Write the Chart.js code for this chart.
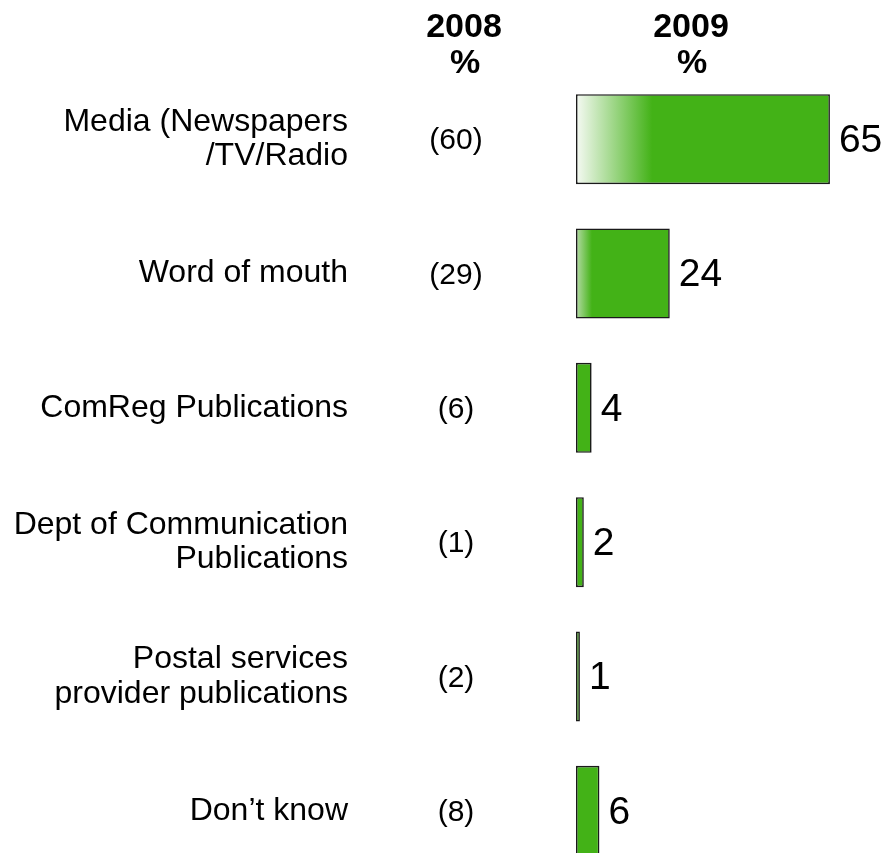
<!DOCTYPE html>
<html>
<head>
<meta charset="utf-8">
<script src="https://cdn.jsdelivr.net/npm/chart.js@4"></script>
<style>
  html, body { margin: 0; padding: 0; background: #ffffff; overflow: hidden; }
  #wrap { width: 885px; height: 880px; position: relative; }
</style>
</head>
<body>
<div id="wrap"><canvas id="sourceChart"></canvas></div>
<script>
// Categories (multi-line labels) and values
const categories = [
  ['Media (Newspapers', '/TV/Radio'],
  'Word of mouth',
  'ComReg Publications',
  ['Dept of Communication', 'Publications'],
  ['Postal services', 'provider publications'],
  'Don\u2019t know'
];
const values2009 = [65, 24, 4, 2, 1, 6];
const values2008 = [60, 29, 6, 1, 2, 8];
const columnHeaders = ['2008', '2009'];

// Styling for the white fade at the start of the two large bars
const GREEN = '#43b217';
const fadeFraction = [0.30, 0.17, 0, 0, 0, 0];
const fadeColor = ['#f6faf4', '#b7dca8', GREEN, GREEN, GREEN, GREEN];

const FONT = '"Liberation Sans", Arial, sans-serif';

function barFill(context) {
  const chart = context.chart;
  const i = context.dataIndex;
  if (!chart.chartArea || !fadeFraction[i]) return GREEN;
  const xs = chart.scales.x;
  const x0 = xs.getPixelForValue(0);
  const x1 = xs.getPixelForValue(values2009[i]);
  const g = chart.ctx.createLinearGradient(x0, 0, x1, 0);
  g.addColorStop(0, fadeColor[i]);
  g.addColorStop(fadeFraction[i], GREEN);
  g.addColorStop(1, GREEN);
  return g;
}

// Draws headers, 2008 values in brackets and 2009 value labels
const textPlugin = {
  id: 'textPlugin',
  afterDatasetsDraw(chart) {
    const ctx = chart.ctx;
    const meta = chart.getDatasetMeta(0);
    ctx.save();
    ctx.fillStyle = '#000000';
    ctx.textBaseline = 'middle';

    // column headers
    ctx.font = 'bold 34px ' + FONT;
    ctx.textAlign = 'center';
    ctx.fillText(columnHeaders[0], 464, 28);
    ctx.fillText('%', 465, 64);
    ctx.fillText(columnHeaders[1], 691, 28);
    ctx.fillText('%', 692, 64);

    meta.data.forEach((bar, i) => {
      // 2008 value
      ctx.font = '30px ' + FONT;
      ctx.textAlign = 'center';
      ctx.fillText('(' + values2008[i] + ')', 456, bar.y + 2);
      // 2009 value
      ctx.font = '39px ' + FONT;
      ctx.textAlign = 'left';
      ctx.fillText(String(values2009[i]), bar.x + 9, bar.y + 2);
    });
    ctx.restore();
  }
};

new Chart(document.getElementById('sourceChart'), {
  type: 'bar',
  data: {
    labels: categories,
    datasets: [{
      label: '2009',
      data: values2009,
      backgroundColor: barFill,
      borderColor: '#1a1a1a',
      borderWidth: 1.6,
      borderSkipped: false,
      barPercentage: 0.67,
      categoryPercentage: 1
    }]
  },
  plugins: [textPlugin],
  options: {
    indexAxis: 'y',
    responsive: true,
    maintainAspectRatio: false,
    animation: false,
    layout: { padding: { top: 72, bottom: 2, left: 0, right: 16 } },
    plugins: {
      legend: { display: false },
      tooltip: { enabled: false }
    },
    scales: {
      x: {
        display: false,
        min: 0,
        max: 75
      },
      y: {
        position: 'left',
        grid: { display: false, drawTicks: false },
        border: { display: false },
        afterFit(scale) {
          scale.width = 576;
          scale.paddingTop = 0;
          scale.paddingBottom = 0;
        },
        ticks: {
          padding: 228,
          color: '#000000',
          font: { family: FONT, size: 32, lineHeight: 1.08 }
        }
      }
    }
  }
});
</script>
</body>
</html>
